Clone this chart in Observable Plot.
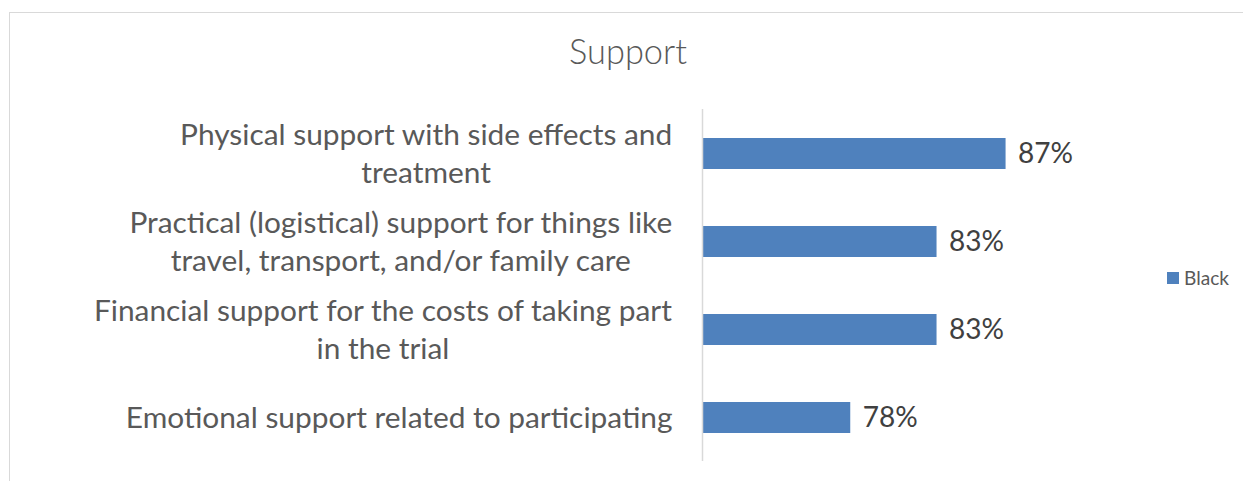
<!DOCTYPE html>
<html>
<head>
<meta charset="utf-8">
<script src="https://cdn.jsdelivr.net/npm/d3@7"></script>
<script src="https://cdn.jsdelivr.net/npm/@observablehq/plot@0.6"></script>
<style>
  html, body { margin: 0; padding: 0; background: #fff; }
  #wrap { position: relative; width: 1243px; height: 481px; overflow: hidden; font-family: Lato, "Liberation Sans", sans-serif; }
  #border { position: absolute; left: 9px; top: 12px; width: 1250px; height: 480px; border: 1px solid #d9d9d9; box-sizing: border-box; }
  #chart { position: absolute; left: 0; top: 0; }
  #title { position: absolute; left: 0; width: 1256px; top: 0; text-align: center; color: #595959; white-space: nowrap; font-weight: 300; }
  #legend { position: absolute; left: 1167px; top: 266px; color: #595959; white-space: nowrap; display: flex; align-items: center; }
  #legend .sw { width: 12px; height: 12px; background: #4f81bd; margin-right: 5px; }
</style>
</head>
<body>
<div id="wrap">
  <div id="border"></div>
  <div id="chart"></div>
  <div id="title"></div>
  <div id="legend"><span class="sw"></span><span class="lab"></span></div>
</div>
<script>
// ---- data ----
const chartTitle = "Support";
const seriesName = "Black";
const categories = [
  "Physical support with side effects and treatment",
  "Practical (logistical) support for things like travel, transport, and/or family care",
  "Financial support for the costs of taking part in the trial",
  "Emotional support related to participating"
];
const categoryLines = [
  ["Physical support with side effects and", "treatment"],
  ["Practical (logistical) support for things like", "travel, transport, and/or family care"],
  ["Financial support for the costs of taking part", "in the trial"],
  ["Emotional support related to participating"]
];
const values = [87, 83, 83, 78];
const valueLabels = ["87%", "83%", "83%", "78%"];

// ---- layout / style ----
const FONT = "Lato";
const barColor = "#4f81bd";
const xDomain = [69.41, 94.5];

const ctx = document.createElement("canvas").getContext("2d");
function measure(text, size, weight) { ctx.font = `${weight || 400} ${size}px ${FONT}`; return ctx.measureText(text).width; }
function fit(text, target, weight) { return 100 * target / measure(text, 100, weight); }

const labelSize = fit("Emotional support related to participating", 547);
const valueSize = fit("87%", 55);
const titleSize = fit("Support", 118, 300);
const legendSize = fit("Black", 45);
const lineStep = 38;

const data = categories.map((c, i) => ({cat: c, value: values[i], label: valueLabels[i]}));

const labelMarks = [];
categories.forEach((c, i) => {
  const lines = categoryLines[i];
  const blockW = Math.max(...lines.map(l => measure(l, labelSize)));
  lines.forEach((line, j) => {
    labelMarks.push(Plot.text([{cat: c, text: line}], {
      y: "cat", text: "text", frameAnchor: "left", textAnchor: "middle",
      dx: -(30 + blockW / 2), dy: (j - (lines.length - 1) / 2) * lineStep,
      fontSize: labelSize, fill: "#595959", fontFamily: FONT
    }));
  });
});

const chart = Plot.plot({
  width: 1243, height: 481,
  marginLeft: 702, marginRight: 108, marginTop: 109, marginBottom: 20,
  style: {background: "transparent", fontFamily: FONT},
  x: {domain: xDomain, axis: null},
  y: {domain: categories, axis: null, paddingInner: 0.65, paddingOuter: 0.325},
  marks: [
    Plot.barX(data, {y: "cat", x1: xDomain[0], x2: "value", fill: barColor}),
    Plot.ruleX([xDomain[0]], {stroke: "#d9d9d9", strokeWidth: 1.5}),
    Plot.text(data, {x: "value", y: "cat", text: "label", textAnchor: "start", dx: 12, fontSize: valueSize, fill: "#404040", fontFamily: FONT}),
    ...labelMarks
  ]
});
document.getElementById("chart").appendChild(chart);

const t = document.getElementById("title");
t.textContent = chartTitle;
t.style.fontSize = titleSize + "px";
t.style.lineHeight = "1.2";
t.style.top = (67 - titleSize * 0.987 - (titleSize * 1.2 - titleSize) / 2) + "px";

const lg = document.getElementById("legend");
lg.querySelector(".lab").textContent = seriesName;
lg.style.fontSize = legendSize + "px";
</script>
</body>
</html>
